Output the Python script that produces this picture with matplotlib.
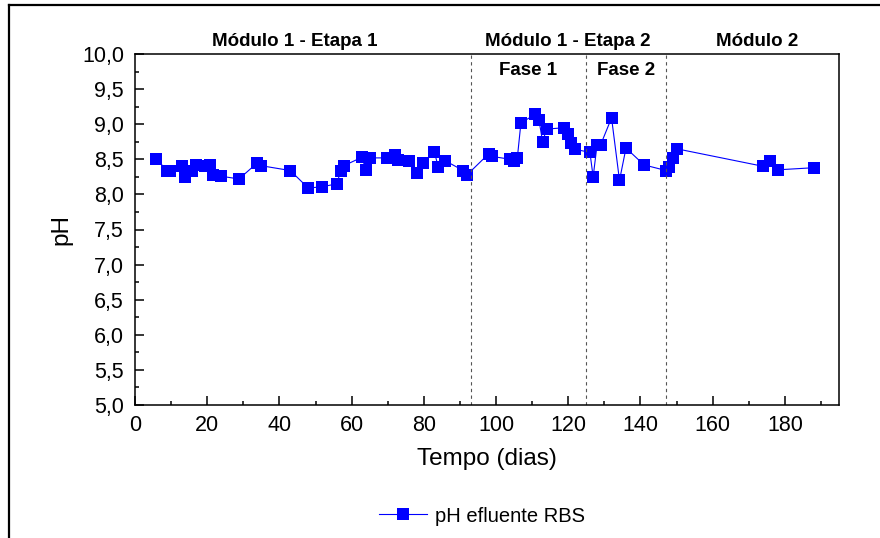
import matplotlib
matplotlib.use("Agg")
import matplotlib.pyplot as plt
import matplotlib.ticker as mticker
from matplotlib.lines import Line2D

plt.rcParams["font.family"] = ["Liberation Sans", "DejaVu Sans"]

# ---- data ----
tempo = [
    5.8, 8.9, 9.7, 12.9, 13.9, 15.7, 16.8, 19.4, 20.8, 21.7, 23.7, 28.8,
    33.9, 34.8, 43.0, 48.0, 51.9, 55.9, 57.0, 57.9, 62.9, 63.9, 65.1, 69.9,
    72.0, 72.9, 76.0, 78.0, 79.9, 82.9, 84.0, 85.9, 90.9, 92.0, 98.0, 99.0,
    104.0, 105.0, 105.9, 106.9, 110.9, 111.9, 112.9, 114.0, 118.9, 120.0,
    120.9, 122.0, 126.0, 126.9, 128.0, 129.0, 132.0, 134.2, 136.0, 141.0,
    147.1, 148.0, 148.9, 150.0, 174.0, 176.0, 178.0, 188.0,
]
ph = [
    8.51, 8.34, 8.33, 8.41, 8.25, 8.34, 8.42, 8.40, 8.42, 8.28, 8.26, 8.22,
    8.45, 8.41, 8.34, 8.09, 8.11, 8.15, 8.34, 8.41, 8.53, 8.35, 8.52, 8.52,
    8.56, 8.49, 8.47, 8.30, 8.45, 8.61, 8.39, 8.48, 8.34, 8.28, 8.58, 8.54,
    8.50, 8.47, 8.52, 9.02, 9.14, 9.06, 8.75, 8.93, 8.95, 8.86,
    8.73, 8.64, 8.60, 8.25, 8.71, 8.71, 9.09, 8.20, 8.66, 8.42,
    8.34, 8.39, 8.52, 8.65, 8.40, 8.47, 8.35, 8.38,
]
divisoes = [93, 125, 147]
modulos = ["Módulo 1 - Etapa 1", "Módulo 1 - Etapa 2", "Módulo 2"]
modulos_x = [44.3, 120, 172.2]
fases = ["Fase 1", "Fase 2"]
fases_x = [108.8, 136]

fig = plt.figure(figsize=(8.8, 5.38), dpi=100)
ax = fig.add_axes([135 / 880, 1 - 405 / 538, 704 / 880, 351 / 538])

ax.plot(tempo, ph, color="#0000ff", linewidth=0.8, marker="s",
        markersize=8.5, markeredgewidth=0, label="pH efluente RBS")

for d in divisoes:
    ax.axvline(d, color="#555555", linestyle=(0, (3, 3)), linewidth=0.8)

ax.set_xlim(0, 195)
ax.set_ylim(5.0, 10.0)
ax.xaxis.set_major_locator(mticker.MultipleLocator(20))
ax.xaxis.set_minor_locator(mticker.MultipleLocator(10))
ax.yaxis.set_major_locator(mticker.MultipleLocator(0.5))
ax.yaxis.set_minor_locator(mticker.MultipleLocator(0.25))
ax.yaxis.set_major_formatter(
    mticker.FuncFormatter(lambda v, _: f"{v:.1f}".replace(".", ",")))
ax.tick_params(which="both", direction="in", labelsize=15.5,
               top=False, right=False, width=1.1)
ax.tick_params(which="major", length=6.5)
ax.tick_params(which="minor", length=3)
ax.tick_params(axis="y", which="major", pad=8)
ax.tick_params(axis="x", which="major", pad=7)
for s in ax.spines.values():
    s.set_linewidth(1.1)

ax.set_xlabel("Tempo (dias)", fontsize=17.5, labelpad=9)
ax.set_ylabel("pH", fontsize=17.5, labelpad=7)

for txt, x in zip(modulos, modulos_x):
    ax.text(x, 10.18, txt, ha="center", va="center", fontsize=13.5,
            fontweight="bold")
for txt, x in zip(fases, fases_x):
    ax.text(x, 9.76, txt, ha="center", va="center", fontsize=13.5,
            fontweight="bold")

fig.legend(loc="center", bbox_to_anchor=(482 / 880, 1 - 516 / 538),
           frameon=False, fontsize=14.5, handlelength=2.4, handletextpad=0.4)

# outer frame (cropped figure border)
fx = 9 / 880
fy = 1 - 5 / 538
fig.add_artist(Line2D([fx, fx], [0, fy], color="black", linewidth=1.6,
                      transform=fig.transFigure))
fig.add_artist(Line2D([fx, 1], [fy, fy], color="black", linewidth=1.6,
                      transform=fig.transFigure))

fig.savefig("out.png", dpi=100)
